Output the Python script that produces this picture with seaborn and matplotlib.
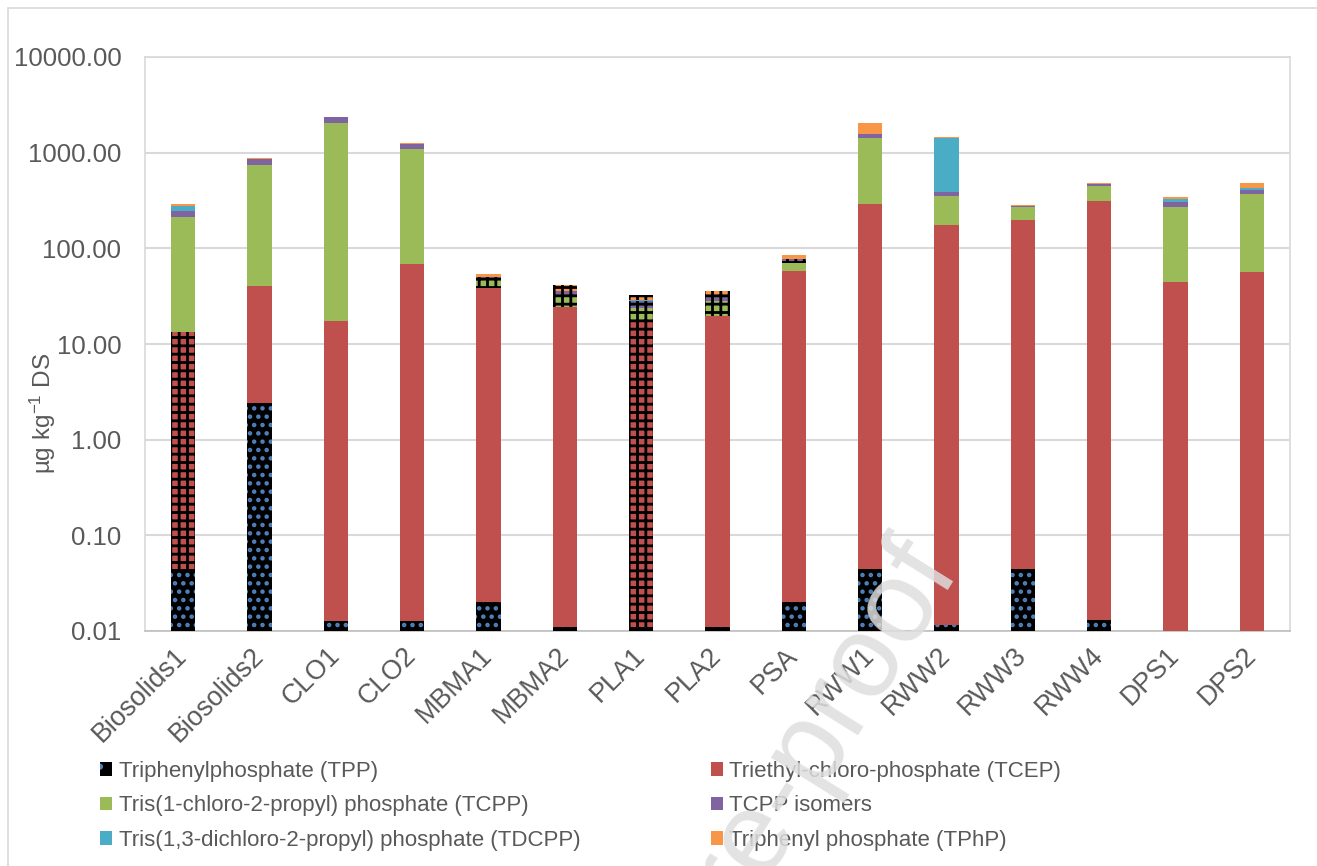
import numpy as np
import pandas as pd
import matplotlib
matplotlib.use("Agg")
import matplotlib.pyplot as plt
from matplotlib.patches import Patch, Rectangle
from matplotlib.ticker import FixedLocator, FixedFormatter, NullLocator
import seaborn as sns

# ---------------- data ----------------
categories = ["Biosolids1", "Biosolids2", "CLO1", "CLO2", "MBMA1", "MBMA2", "PLA1",
              "PLA2", "PSA", "RWW1", "RWW2", "RWW3", "RWW4", "DPS1", "DPS2"]

series_names = ["Triphenylphosphate (TPP)",
                "Triethyl-chloro-phosphate (TCEP)",
                "Tris(1-chloro-2-propyl) phosphate (TCPP)",
                "TCPP isomers",
                "Tris(1,3-dichloro-2-propyl) phosphate (TDCPP)",
                "Triphenyl phosphate (TPhP)"]

tpp   = [0.044, 2.39, 0.0127, 0.0127, 0.020, 0.011, 0.011, 0.011, 0.020, 0.044, 0.0116, 0.045, 0.013, 0.0, 0.0]
tcep  = [13.26, 38.2, 17.5, 67.9, 38.7, 24.5, 17.1, 19.6, 58.2, 292, 176, 200, 313, 44.0, 56.8]
tcpp  = [199.7, 699, 2015, 1020, 7.5, 7.4, 6.4, 8.5, 12.4, 1115, 178, 71, 137, 228, 309]
iso   = [33, 129, 300, 148, 3.5, 4.1, 4.6, 3.5, 6.0, 178, 30, 7, 22, 34, 43]
tdcpp = [30, 0, 0, 10, 0, 0, 0.6, 0, 0, 0, 1044, 0, 0, 21, 21]
tphp  = [14, 21, 10, 30, 3.7, 5.3, 3.7, 4.1, 7.8, 433, 34, 5, 6, 21, 47]

y_ticks = [0.01, 0.1, 1, 10, 100, 1000, 10000]
y_tick_labels = ["0.01", "0.10", "1.00", "10.00", "100.00", "1000.00", "10000.00"]

# ---------------- style ----------------
colors = ["#000000", "#C0504D", "#9BBB59", "#8064A2", "#4BACC6", "#F79646"]
# segments drawn with a black grid hatch: (category, series index)
grid_hatched = {("Biosolids1", 1), ("PLA1", 1),
                ("MBMA1", 2), ("MBMA1", 3),
                ("MBMA2", 2), ("MBMA2", 3), ("MBMA2", 5),
                ("PLA1", 2), ("PLA1", 3), ("PLA1", 5),
                ("PLA2", 2), ("PLA2", 3), ("PLA2", 5),
                ("PSA", 3)}

text_col = "#595959"
grid_col = "#D9D9D9"
font = ["Liberation Sans", "DejaVu Sans"]

sns.set_theme(style="white")
plt.rcParams["font.family"] = font
plt.rcParams["mathtext.default"] = "regular"
plt.rcParams["hatch.linewidth"] = 2.0

fig = plt.figure(figsize=(13.17, 8.66), dpi=100)
ax = fig.add_axes([145 / 1317, 1 - 631 / 866, (1290 - 145) / 1317, (631 - 57) / 866])

series = [tpp, tcep, tcpp, iso, tdcpp, tphp]
cum = np.cumsum(np.array(series, dtype=float), axis=0)

# draw from the top of the stack downwards so lower segments cover upper cumulative bars
for k in range(len(series) - 1, -1, -1):
    df = pd.DataFrame({"cat": categories, "val": cum[k]})
    n_before = len(ax.patches)
    sns.barplot(data=df, x="cat", y="val", order=categories, color=colors[k],
                saturation=1, width=0.32, ax=ax, errorbar=None, linewidth=0, zorder=3)
    new = ax.patches[n_before:]
    for cat, p in zip(categories, new):
        if k == 0:
            p.set_hatch("..")
            p.set_edgecolor("#4F81BD")
            p.set_linewidth(0)
        elif (cat, k) in grid_hatched:
            p.set_hatch("++")
            p.set_edgecolor("#000000")
            p.set_linewidth(0)

ax.set_yscale("log")
ax.set_ylim(0.01, 10000)
ax.set_xlim(-0.5, len(categories) - 0.5)
ax.yaxis.set_major_locator(FixedLocator(y_ticks))
ax.yaxis.set_major_formatter(FixedFormatter(y_tick_labels))
ax.yaxis.set_minor_locator(NullLocator())
ax.grid(axis="y", color=grid_col, linewidth=1.5, zorder=0)
ax.set_axisbelow(True)
for s in ax.spines.values():
    s.set_color(grid_col)
    s.set_linewidth(1.2)
ax.spines["bottom"].set_color("#BFBFBF")
ax.tick_params(axis="y", length=0, colors=text_col, labelsize=18.5, pad=17)
ax.tick_params(axis="x", length=0, colors=text_col, labelsize=19.3, pad=15)
for lab in ax.get_xticklabels():
    lab.set_rotation(45)
    lab.set_ha("right")
    lab.set_va("center")
    lab.set_rotation_mode("anchor")
    lab.set_color(text_col)
ax.set_xlabel("")
ax.set_ylabel("")
fig.text(43 / 1317, 1 - 413 / 866, r"µg kg$^{-1}$ DS", fontsize=17.5, color=text_col,
         rotation=90, ha="center", va="center")

# legend
handles = []
for k, name in enumerate(series_names):
    if k == 0:
        h = Patch(facecolor=colors[k], edgecolor="#4F81BD", hatch=".", linewidth=0)
    else:
        h = Patch(facecolor=colors[k], edgecolor=colors[k], linewidth=0)
    handles.append(h)
order = [0, 2, 4, 1, 3, 5]
leg = fig.legend([handles[i] for i in order], [series_names[i] for i in order],
                 loc="upper left", bbox_to_anchor=(100 / 1317, 1 - 761 / 866),
                 ncol=2, frameon=False, fontsize=16, handlelength=0.55, handleheight=0.55,
                 handletextpad=0.3, columnspacing=5.85, labelspacing=0.6,
                 borderaxespad=0, borderpad=0)
for t in leg.get_texts():
    t.set_color(text_col)

# outer chart border
fig.add_artist(Rectangle((8 / 1317, -0.2), 1.3, 1.2 - 8 / 866, transform=fig.transFigure,
                         fill=False, edgecolor=grid_col, linewidth=1.2))

# watermark
fig.text(935 / 1317, 1 - 555 / 866, "Journal Pre-proof", fontsize=84, color="#DEDEDE",
         alpha=0.85, rotation=58, rotation_mode="anchor", ha="right", va="center",
         zorder=10)

fig.savefig("out.png", dpi=100)
